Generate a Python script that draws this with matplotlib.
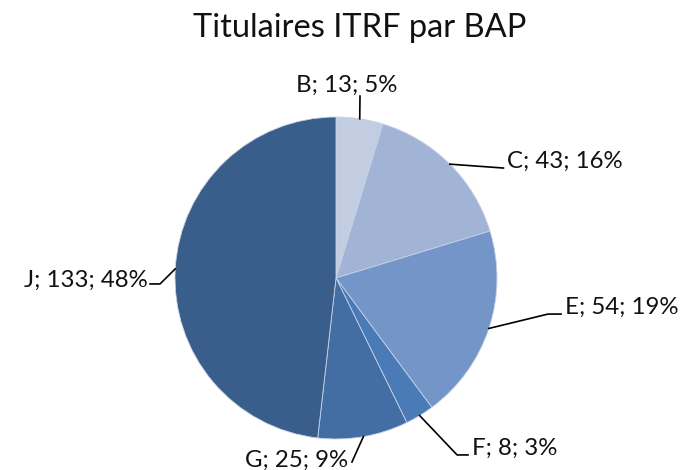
import matplotlib
matplotlib.use("Agg")
import matplotlib.pyplot as plt
import numpy as np

categories = ["B", "C", "E", "F", "G", "J"]
values = [13, 43, 54, 8, 25, 133]
pct_labels = ["5%", "16%", "19%", "3%", "9%", "48%"]
colors = ["#c3cde2", "#a2b4d6", "#7395c8", "#4a7bb7", "#426ea4", "#3a5e8b"]
title = "Titulaires ITRF par BAP"

plt.rcParams['font.family'] = ['Lato', 'DejaVu Sans']

W, H = 691, 470
fig = plt.figure(figsize=(W / 100, H / 100), dpi=100)
cx, cy, r = 336, 278, 161
ax = fig.add_axes([(cx - r) / W, (H - cy - r) / H, 2 * r / W, 2 * r / H])
wedges, _ = ax.pie(values, colors=colors, startangle=90, counterclock=False,
                   radius=1, wedgeprops=dict(edgecolor="#c8d2e6", linewidth=0.6))
ax.set_xlim(-1, 1)
ax.set_ylim(-1, 1)
ax.set_aspect("equal")
ax.axis("off")

# label layout: (elbow points after the edge point, text pos, ha)
layout = {
    "B": ([(0.149, 1.130)], (0.068, 1.199), "center"),
    "C": ([(1.040, 0.683)], (1.062, 0.727), "left"),
    "E": ([(1.317, -0.224), (1.398, -0.224)], (1.422, -0.180), "left"),
    "F": ([(0.752, -1.099), (0.820, -1.099)], (0.845, -1.056), "left"),
    "G": ([(0.099, -1.143)], (0.075, -1.130), "right"),
    "J": ([(-1.093, -0.037), (-1.155, -0.037)], (-1.168, -0.012), "right"),
}

for w, cat, v, p in zip(wedges, categories, values, pct_labels):
    mid = np.deg2rad((w.theta1 + w.theta2) / 2)
    ex, ey = np.cos(mid), np.sin(mid)
    pts, tpos, ha = layout[cat]
    xs = [ex] + [q[0] for q in pts]
    ys = [ey] + [q[1] for q in pts]
    ax.plot(xs, ys, color="black", lw=1.2, clip_on=False)
    ax.text(tpos[0], tpos[1], f"{cat}; {v}; {p}", ha=ha, va="center",
            fontsize=17.3, color="#111111", clip_on=False)

fig.text(360 / W, 1 - 28 / H, title, ha="center", va="center",
         fontsize=23.5, color="#111111")

fig.savefig("out.png", dpi=100)
